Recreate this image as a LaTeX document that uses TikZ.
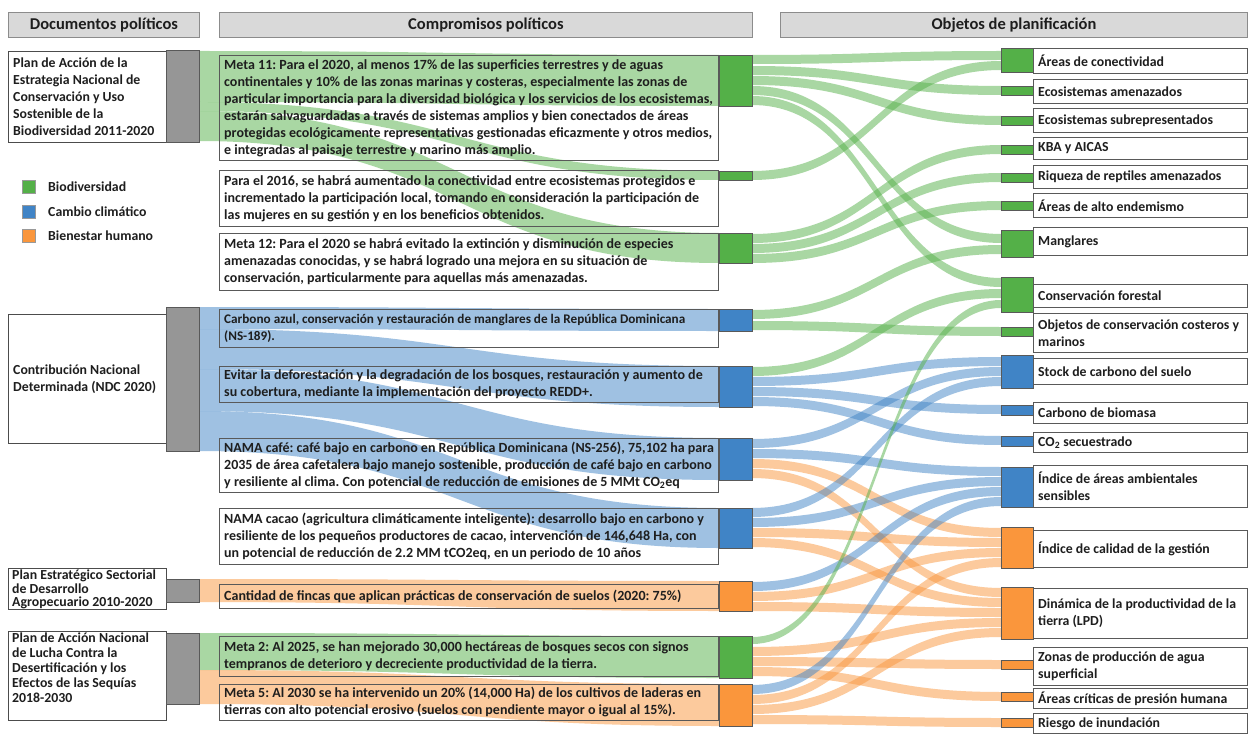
\documentclass[tikz,border=0pt]{standalone}
\usepackage{fontspec}
\setmainfont{Carlito}
\usetikzlibrary{calc}
\pgfdeclarelayer{bg}
\pgfsetlayers{bg,main}
\definecolor{cg}{RGB}{84,176,72}
\definecolor{cb}{RGB}{64,132,198}
\definecolor{co}{RGB}{250,150,60}
\definecolor{cgr}{RGB}{150,150,150}
\definecolor{hdrfill}{RGB}{217,217,217}
\definecolor{txt}{RGB}{30,30,30}
\frenchspacing
\newcommand{\tf}{\fontsize{14}{17}\selectfont\bfseries}
\newcommand{\tg}{\fontsize{13.8}{17}\selectfont\bfseries}
% text box: style, name, x, y, width, height, text  (text left aligned, vertically centred)
\newcommand{\tbox}[7]{%
  \node[#1, minimum width=#5pt, minimum height=#6pt] (#2) at (#3,#4) {};
  \node[lbl, anchor=west] (#2-t) at ($(#2.west)+(5,0)$) {#7};}
% band: style, src node, src offset, src width, dst node, dst offset, dst width
\newcommand{\sband}[7]{%
  \path ($(#2.north east)+(0,#3)$) coordinate (s1)
        ($(#2.north east)+(0,#3+#4)$) coordinate (s2)
        ($(#5.north west)+(0,#6)$) coordinate (d1)
        ($(#5.north west)+(0,#6+#7)$) coordinate (d2)
        ($(s1)!0.5!(d1)$) coordinate (mm);
  \fill[#1] (s1) .. controls (mm |- s1) and (mm |- d1) .. (d1) -- (d2)
     .. controls (mm |- d2) and (mm |- s2) .. (s2) -- cycle;}
\begin{document}
\begin{tikzpicture}[x=1pt,y=-1pt,
  hdr/.style={draw=black!45, fill=hdrfill, line width=0.9pt, font=\fontsize{16.5}{19}\selectfont\bfseries, text=txt, minimum height=25pt, inner sep=0pt, anchor=north west},
  lbl/.style={align=left, inner sep=0pt, text=txt, font=\tf},
  docbox/.style={draw=black!70, line width=0.8pt, anchor=north west, inner sep=0pt},
  mbox/.style={draw=black!65, line width=0.8pt, anchor=north west, inner sep=0pt},
  cbar/.style={draw=black!65, fill=#1, line width=0.8pt, minimum width=33pt, inner sep=0pt, outer sep=0pt, anchor=north west},
  rbar/.style={draw=black!65, fill=#1, line width=0.8pt, minimum width=32pt, inner sep=0pt, outer sep=0pt, anchor=north west},
  leg/.style={draw=black!40, fill=#1, line width=0.6pt, minimum size=13pt, inner sep=0pt, anchor=north west},
  legt/.style={font=\tg, text=txt, anchor=west, inner sep=0pt},
  fg/.style={fill=cg, fill opacity=0.5},
  fb/.style={fill=cb, fill opacity=0.5},
  fo/.style={fill=co, fill opacity=0.5}]
\useasboundingbox (0,0) rectangle (1255,738);

% headers
\node[hdr, minimum width=191pt] (h1) at (8,12) {Documentos políticos};
\node[hdr, minimum width=533pt] (h2) at (219,12) {Compromisos políticos};
\node[hdr, minimum width=467pt] (h3) at (780,12) {Objetos de planificación};

% document boxes
\begin{scope}[lbl/.append style={font=\tg}]
\tbox{docbox}{d1}{8}{51}{158}{91}{Plan de Acción de la\\Estrategia Nacional de\\Conservación y Uso\\Sostenible de la\\Biodiversidad 2011-2020}
\tbox{docbox}{d2}{8}{314}{158}{129}{Contribución Nacional\\Determinada (NDC 2020)}
\end{scope}
\node[docbox, minimum width=158pt, minimum height=41pt] (d3) at (8,568) {};
\node[lbl, font=\fontsize{13.8}{13.5}\selectfont\bfseries, anchor=north west] (d3-t) at ($(d3.north west)+(4,2)$) {Plan Estratégico Sectorial\\de Desarrollo\\Agropecuario 2010-2020};
\node[docbox, minimum width=158pt, minimum height=89pt] (d4) at (8,631) {};
\node[lbl, font=\fontsize{13.8}{15}\selectfont\bfseries, anchor=north west] (d4-t) at ($(d4.north west)+(4,2)$) {Plan de Acción Nacional\\de Lucha Contra la\\Desertificación y los\\Efectos de las Sequías\\2018-2030};

% gray bars
\node[cbar=cgr, minimum height=92pt] (g1) at (166,50) {};
\node[cbar=cgr, minimum height=144pt] (g2) at (166,307) {};
\node[cbar=cgr, minimum height=23pt] (g3) at (166,579) {};
\node[cbar=cgr, minimum height=71pt] (g4) at (166,633) {};

% legend
\node[leg=cg] (lg1) at (22,180) {};
\node[leg=cb] (lg2) at (22,205) {};
\node[leg=co] (lg3) at (22,229) {};
\node[legt] (lt1) at (48,187) {Biodiversidad};
\node[legt] (lt2) at (48,212) {Cambio climático};
\node[legt] (lt3) at (48,236) {Bienestar humano};

% commitment boxes
\tbox{mbox}{t11}{219}{55}{499}{105}{Meta 11: Para el 2020, al menos 17\% de las superficies terrestres y de aguas\\continentales y 10\% de las zonas marinas y costeras, especialmente las zonas de\\particular importancia para la diversidad biológica y los servicios de los ecosistemas,\\estarán salvaguardadas a través de sistemas amplios y bien conectados de áreas\\protegidas ecológicamente representativas gestionadas eficazmente y otros medios,\\e integradas al paisaje terrestre y marino más amplio.}
\tbox{mbox}{t16}{219}{170}{499}{56}{Para el 2016, se habrá aumentado la conectividad entre ecosistemas protegidos e\\incrementado la participación local, tomando en consideración la participación de\\las mujeres en su gestión y en los beneficios obtenidos.}
\tbox{mbox}{t12}{219}{233}{499}{57}{Meta 12: Para el 2020 se habrá evitado la extinción y disminución de especies\\amenazadas conocidas, y se habrá logrado una mejora en su situación de\\conservación, particularmente para aquellas más amenazadas.}
\begin{scope}[lbl/.append style={font=\fontsize{13.2}{17}\selectfont\bfseries}]
\tbox{mbox}{tca}{219}{309}{499}{38}{Carbono azul, conservación y restauración de manglares de la República Dominicana\\(NS-189).}
\end{scope}
\tbox{mbox}{tev}{219}{366}{499}{36}{Evitar la deforestación y la degradación de los bosques, restauración y aumento de\\su cobertura, mediante la implementación del proyecto REDD+.}
\tbox{mbox}{tcf}{219}{438}{499}{54}{NAMA café: café bajo en carbono en República Dominicana (NS-256), 75,102 ha para\\2035 de área cafetalera bajo manejo sostenible, producción de café bajo en carbono\\y resiliente al clima. Con potencial de reducción de emisiones de 5 MMt CO\textsubscript{2}eq}
\tbox{mbox}{tcc}{219}{508}{499}{56}{NAMA cacao (agricultura climáticamente inteligente): desarrollo bajo en carbono y\\resiliente de los pequeños productores de cacao, intervención de 146,648 Ha, con\\un potencial de reducción de 2.2 MM tCO2eq, en un periodo de 10 años}
\tbox{mbox}{tfi}{219}{584}{499}{24}{Cantidad de fincas que aplican prácticas de conservación de suelos (2020: 75\%)}
\tbox{mbox}{tm2}{219}{636}{499}{40}{Meta 2: Al 2025, se han mejorado 30,000 hectáreas de bosques secos con signos\\tempranos de deterioro y decreciente productividad de la tierra.}
\tbox{mbox}{tm5}{219}{684}{499}{36}{Meta 5: Al 2030 se ha intervenido un 20\% (14,000 Ha) de los cultivos de laderas en\\tierras con alto potencial erosivo (suelos con pendiente mayor o igual al 15\%).}

% commitment bars
\node[cbar=cg, minimum height=51pt] (b11) at (719,55) {};
\node[cbar=cg, minimum height=9pt] (b16) at (719,171) {};
\node[cbar=cg, minimum height=30pt] (b12) at (719,233) {};
\node[cbar=cb, minimum height=22pt] (bca) at (719,309) {};
\node[cbar=cb, minimum height=41pt] (bev) at (719,366) {};
\node[cbar=cb, minimum height=42pt] (bcf) at (719,438) {};
\node[cbar=cb, minimum height=40pt] (bcc) at (719,508) {};
\node[cbar=co, minimum height=30pt] (bfi) at (719,581) {};
\node[cbar=cg, minimum height=42pt] (bm2) at (719,636) {};
\node[cbar=co, minimum height=42pt] (bm5) at (719,684) {};

% planning objects
\begin{scope}[lbl/.append style={font=\tg}]
\tbox{mbox}{o1}{1033}{48}{214}{25}{Áreas de conectividad}
\tbox{mbox}{o2}{1033}{79}{214}{24}{Ecosistemas amenazados}
\tbox{mbox}{o3}{1033}{108}{214}{24}{Ecosistemas subrepresentados}
\tbox{mbox}{o4}{1033}{137}{214}{22}{KBA y AICAS}
\tbox{mbox}{o5}{1033}{165}{214}{23}{Riqueza de reptiles amenazados}
\tbox{mbox}{o6}{1033}{193}{214}{24}{Áreas de alto endemismo}
\tbox{mbox}{o7}{1033}{227}{214}{28}{Manglares}
\tbox{mbox}{o8}{1033}{284}{214}{23}{Conservación forestal}
\tbox{mbox}{o9}{1033}{313}{214}{39}{Objetos de conservación costeros y\\marinos}
\tbox{mbox}{o10}{1033}{358}{214}{26}{Stock de carbono del suelo}
\tbox{mbox}{o11}{1033}{402}{214}{21}{Carbono de biomasa}
\tbox{mbox}{o12}{1033}{432}{214}{20}{CO\textsubscript{2} secuestrado}
\tbox{mbox}{o13}{1033}{465}{214}{42}{Índice de áreas ambientales\\sensibles}
\tbox{mbox}{o14}{1033}{530}{214}{37}{Índice de calidad de la gestión}
\tbox{mbox}{o15}{1033}{588}{214}{50}{Dinámica de la productividad de la\\tierra (LPD)}
\tbox{mbox}{o16}{1033}{647}{214}{38}{Zonas de producción de agua\\superficial}
\tbox{mbox}{o17}{1033}{688}{214}{20}{Áreas críticas de presión humana}
\tbox{mbox}{o18}{1033}{713}{214}{20}{Riesgo de inundación}
\end{scope}

% planning object bars
\node[rbar=cg, minimum height=24pt] (r1) at (1001,48) {};
\node[rbar=cg, minimum height=9pt] (r2) at (1001,86) {};
\node[rbar=cg, minimum height=9pt] (r3) at (1001,116) {};
\node[rbar=cg, minimum height=9pt] (r4) at (1001,145) {};
\node[rbar=cg, minimum height=9pt] (r5) at (1001,173) {};
\node[rbar=cg, minimum height=9pt] (r6) at (1001,201) {};
\node[rbar=cg, minimum height=27pt] (r7) at (1001,230) {};
\node[rbar=cg, minimum height=35pt] (r8) at (1001,277) {};
\node[rbar=cg, minimum height=9pt] (r9) at (1001,327) {};
\node[rbar=cb, minimum height=33pt] (r10) at (1001,355) {};
\node[rbar=cb, minimum height=10pt] (r11) at (1001,405) {};
\node[rbar=cb, minimum height=10pt] (r12) at (1001,436) {};
\node[rbar=cb, minimum height=40pt] (r13) at (1001,467) {};
\node[rbar=co, minimum height=41pt] (r14) at (1001,527) {};
\node[rbar=co, minimum height=52pt] (r15) at (1001,587) {};
\node[rbar=co, minimum height=9pt] (r16) at (1001,660) {};
\node[rbar=co, minimum height=9pt] (r17) at (1001,692) {};
\node[rbar=co, minimum height=9pt] (r18) at (1001,718) {};

\begin{pgfonlayer}{bg}
\fill[white] (0,0) rectangle (1255,738);
% documents -> commitments
\sband{fg}{g1}{1}{51}{b11}{0}{51}
\sband{fg}{g1}{52}{9}{b16}{0}{9}
\sband{fg}{g1}{61}{30}{b12}{0}{30}
\sband{fb}{g2}{0}{22}{bca}{0}{22}
\sband{fb}{g2}{22}{40}{bev}{0}{41}
\sband{fb}{g2}{62}{42}{bcf}{0}{42}
\sband{fb}{g2}{104}{40}{bcc}{0}{40}
\sband{fo}{g3}{0}{23}{bfi}{0}{30}
\sband{fg}{g4}{0}{37}{bm2}{0}{42}
\sband{fo}{g4}{37}{34}{bm5}{0}{42}
% commitments -> planning objects
\sband{fg}{b11}{0}{9}{r1}{3}{9}
\sband{fg}{b11}{11}{9}{r2}{0}{9}
\sband{fg}{b11}{21}{9}{r3}{0}{9}
\sband{fg}{b11}{31}{9}{r7}{4}{9}
\sband{fg}{b11}{41}{9}{r8}{1}{9}
\sband{fg}{b16}{0}{9}{r1}{13}{9}
\sband{fg}{b12}{1}{9}{r4}{0}{9}
\sband{fg}{b12}{11}{9}{r5}{0}{9}
\sband{fg}{b12}{21}{9}{r6}{0}{9}
\sband{fg}{bca}{1}{9}{r7}{15}{9}
\sband{fg}{bca}{12}{9}{r9}{0}{9}
\sband{fg}{bev}{1}{9}{r8}{12}{9}
\sband{fb}{bev}{11}{9}{r10}{2}{9}
\sband{fb}{bev}{21}{9}{r11}{0}{9}
\sband{fb}{bev}{31}{9}{r12}{0}{9}
\sband{fb}{bcf}{1}{9}{r10}{12}{9}
\sband{fb}{bcf}{11}{9}{r13}{0}{9}
\sband{fo}{bcf}{21}{9}{r14}{1}{9}
\sband{fo}{bcf}{31}{9}{r15}{1}{9}
\sband{fb}{bcc}{0}{9}{r10}{22}{9}
\sband{fb}{bcc}{10}{9}{r13}{10}{9}
\sband{fo}{bcc}{20}{9}{r14}{11}{9}
\sband{fo}{bcc}{30}{9}{r15}{11}{9}
\sband{fb}{bfi}{1}{9}{r13}{20}{9}
\sband{fo}{bfi}{11}{9}{r14}{21}{9}
\sband{fo}{bfi}{21}{9}{r15}{21}{9}
\sband{fg}{bm2}{1}{7}{r8}{23}{8}
\sband{fo}{bm2}{11}{9}{r15}{31}{9}
\sband{fo}{bm2}{21}{9}{r16}{0}{9}
\sband{fo}{bm2}{31}{9}{r17}{0}{9}
\sband{fb}{bm5}{1}{9}{r13}{30}{9}
\sband{fo}{bm5}{11}{9}{r14}{31}{9}
\sband{fo}{bm5}{21}{9}{r15}{41}{9}
\sband{fo}{bm5}{31}{9}{r18}{0}{9}
\end{pgfonlayer}
\end{tikzpicture}
\end{document}
